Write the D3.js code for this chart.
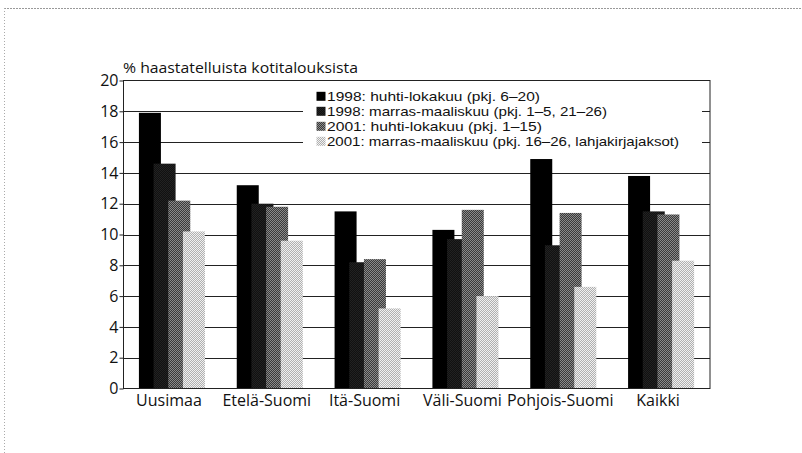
<!DOCTYPE html>
<html>
<head>
<meta charset="utf-8">
<script src="https://cdn.jsdelivr.net/npm/d3@7"></script>
<style>
  body { margin: 0; background: #fff; }
  svg text { font-family: "Open Sans", sans-serif; fill: #111; }
</style>
</head>
<body>
<div id="chart"></div>
<script>
// Datos
const alueet = ["Uusimaa", "Etelä-Suomi", "Itä-Suomi", "Väli-Suomi", "Pohjois-Suomi", "Kaikki"]
const sarjat = [
  "1998: huhti-lokakuu (pkj. 6–20)",
  "1998: marras-maaliskuu (pkj. 1–5, 21–26)",
  "2001: huhti-lokakuu (pkj. 1–15)",
  "2001: marras-maaliskuu (pkj. 16–26, lahjakirjajaksot)"
]
const kevat98 = [17.9, 13.2, 11.5, 10.3, 14.9, 13.8]
const talvi98 = [14.6, 12.0, 8.2, 9.7, 9.3, 11.5]
const kevat01 = [12.2, 11.8, 8.4, 11.6, 11.4, 11.3]
const talvi01 = [10.2, 9.6, 5.2, 6.0, 6.6, 8.3]
const arvot = [kevat98, talvi98, kevat01, talvi01]
const yTicks = [0, 2, 4, 6, 8, 10, 12, 14, 16, 18, 20]
const otsikko = "% haastatelluista kotitalouksista"

const ancho = 802
const alto = 453
const margin = { left: 123, right: 92, top: 80.5, bottom: 64.5 }

const svg = d3.select("#chart")
  .append("svg")
  .attr("width", ancho)
  .attr("height", alto)

// Texturas (rasteri)
const defs = svg.append("defs")
const patron = (id, a, b) => {
  const p = defs.append("pattern")
    .attr("id", id)
    .attr("width", 2)
    .attr("height", 2)
    .attr("patternUnits", "userSpaceOnUse")
  p.append("rect").attr("width", 2).attr("height", 2).attr("fill", a)
  p.append("rect").attr("width", 1).attr("height", 1).attr("fill", b)
  p.append("rect").attr("x", 1).attr("y", 1).attr("width", 1).attr("height", 1).attr("fill", b)
}
patron("p2", "#111", "#222")
patron("p3", "#3a3a3a", "#8a8a8a")
patron("p4", "#b0b0b0", "#f0f0f0")
const rellenos = ["#000", "url(#p2)", "url(#p3)", "url(#p4)"]

// Marco exterior punteado
svg.append("line")
  .attr("x1", 4).attr("x2", ancho).attr("y1", 8.5).attr("y2", 8.5)
  .attr("stroke", "#999").attr("stroke-dasharray", "2,1")
svg.append("line")
  .attr("x1", 4.5).attr("x2", 4.5).attr("y1", 8).attr("y2", alto)
  .attr("stroke", "#aaa").attr("stroke-dasharray", "1,2")

// Escaladores
const x = d3.scaleBand()
  .domain(alueet)
  .range([margin.left, ancho - margin.right])
  .padding(0)

const grupo = 66
const anchoBarra = 22
const xs = d3.scaleBand()
  .domain(d3.range(sarjat.length))
  .range([0, grupo - anchoBarra + 14.7])

const y = d3.scaleLinear()
  .domain([0, 20])
  .range([alto - margin.bottom, margin.top])

const x0 = margin.left
const x1 = ancho - margin.right

// Líneas de la cuadrícula
svg.append("g")
  .selectAll("line")
  .data(yTicks.filter((d) => d > 0 && d < 20))
  .join("line")
  .attr("x1", x0)
  .attr("x2", x1)
  .attr("y1", (d) => Math.round(y(d)) + 0.5)
  .attr("y2", (d) => Math.round(y(d)) + 0.5)
  .attr("stroke", "#222")
  .attr("stroke-width", 1)

// Leyenda (fondo blanco)
const leyenda = svg.append("g")
leyenda.append("rect")
  .attr("x", 303)
  .attr("y", 84)
  .attr("width", 399)
  .attr("height", 66)
  .attr("fill", "#fff")

const filaY = (i) => y(18) + (i - 1) * 15

leyenda.selectAll("rect.m")
  .data(sarjat)
  .join("rect")
  .classed("m", true)
  .attr("x", 316.5)
  .attr("y", (d, i) => filaY(i) - 4.5)
  .attr("width", 9)
  .attr("height", 9)
  .attr("fill", (d, i) => rellenos[i])

leyenda.selectAll("text")
  .data(sarjat)
  .join("text")
  .attr("x", 327)
  .attr("y", (d, i) => filaY(i))
  .attr("dy", "0.36em")
  .attr("font-size", 13.4)
  .style("font-family", "'Liberation Sans', sans-serif")
  .attr("textLength", (d, i) => [213, 280, 215, 352][i])
  .attr("lengthAdjust", "spacingAndGlyphs")
  .text((d) => d)

// Barras
const grupos = svg.append("g")
  .selectAll("g")
  .data(arvot)
  .join("g")
  .attr("fill", (d, i) => rellenos[i])

grupos.each(function (serie, s) {
  d3.select(this)
    .selectAll("rect")
    .data(serie)
    .join("rect")
    .attr("x", (d, i) => x(alueet[i]) + (x.bandwidth() - grupo) / 2 + xs(s))
    .attr("y", (d) => y(d))
    .attr("width", anchoBarra)
    .attr("height", (d) => y(0) - y(d))
})

// Marco
svg.append("rect")
  .attr("x", x0 + 0.5)
  .attr("y", y(20))
  .attr("width", x1 - x0 - 0.5)
  .attr("height", y(0) - y(20))
  .attr("fill", "none")
  .attr("stroke", "#222")
  .attr("stroke-width", 1)

// Eje Y
const ejeY = svg.append("g")
  .attr("transform", `translate(${x0 + 0.5}, 0)`)
  .call(d3.axisLeft(y).tickValues(yTicks).tickSize(4).tickPadding(1).tickFormat(d3.format("d")))

ejeY.select(".domain").remove()
ejeY.selectAll("line").attr("stroke", "#222")
ejeY.selectAll("text")
  .attr("font-size", 16)
  .attr("fill", "#111")
  .style("font-family", "'Open Sans', sans-serif")

// Eje X
svg.append("g")
  .selectAll("text")
  .data(alueet)
  .join("text")
  .attr("x", (d) => x(d) + x.bandwidth() / 2 - 3)
  .attr("y", 406)
  .attr("text-anchor", "middle")
  .attr("font-size", 16)
  .text((d) => d)

// Título
svg.append("text")
  .attr("x", 123)
  .attr("y", 73)
  .attr("font-size", 15)
  .attr("textLength", 235)
  .attr("lengthAdjust", "spacingAndGlyphs")
  .text(otsikko)
</script>
</body>
</html>
